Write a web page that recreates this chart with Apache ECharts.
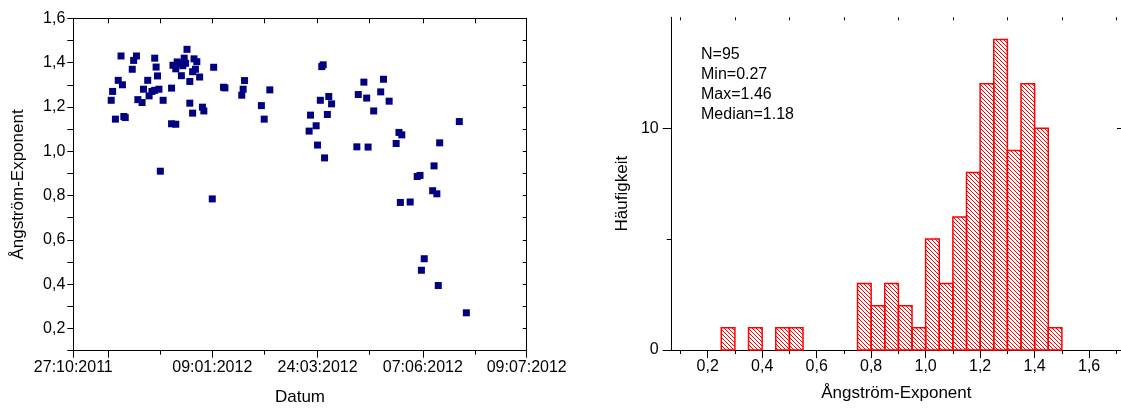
<!DOCTYPE html>
<html>
<head>
<meta charset="utf-8">
<script src="https://cdn.jsdelivr.net/npm/echarts@6/dist/echarts.min.js"></script>
<style>
  html, body { margin: 0; padding: 0; background: #fff; }
  #chart { width: 1121px; height: 412px; }
</style>
</head>
<body>
<div id="chart"></div>
<script>
// Messungen: Datum und Ångström-Exponent
var scatterDates = [
  '2011-11-05', '2011-11-16', '2011-11-14', '2011-11-29', '2011-11-30', '2011-12-01',
  '2011-11-13', '2011-11-03', '2011-11-06', '2011-10-30', '2011-10-29', '2011-11-01',
  '2011-11-07', '2011-11-08', '2011-11-24', '2011-11-21', '2011-11-17', '2011-11-20',
  '2011-11-25', '2011-11-27', '2011-11-29', '2011-12-02', '2011-12-05', '2011-12-03',
  '2011-12-11', '2011-12-11', '2011-12-14',
  '2011-12-22', '2011-12-12', '2011-12-15', '2011-12-14', '2011-12-17', '2011-12-20',
  '2011-12-21', '2011-12-19', '2011-12-27', '2011-12-29', '2011-12-26', '2011-12-28',
  '2011-12-18', '2011-12-24', '2011-12-31', '2011-12-24', '2011-12-26', '2012-01-02',
  '2012-01-03', '2012-01-10', '2012-01-09', '2012-01-17', '2012-01-18', '2012-02-01',
  '2012-01-31', '2012-01-30', '2012-02-19', '2012-02-13', '2012-02-15',
  '2012-03-19', '2012-03-23', '2012-03-18', '2012-03-24', '2012-03-27', '2012-03-28',
  '2012-03-26', '2012-04-01', '2012-04-03', '2012-03-31', '2012-03-29',
  '2012-04-26', '2012-04-22', '2012-04-28', '2012-05-10', '2012-05-08', '2012-05-14',
  '2012-05-03', '2012-04-21', '2012-04-29', '2012-05-21', '2012-05-23', '2012-05-19',
  '2012-06-19', '2012-07-03', '2012-06-15', '2012-06-03', '2012-06-05', '2012-06-14',
  '2012-06-17', '2012-05-22', '2012-05-29', '2012-06-08', '2012-06-06', '2012-06-18',
  '2012-07-08'
];
var scatterValues = [
  1.43, 1.43, 1.41, 1.42, 1.38, 1.34,
  1.37, 1.32, 1.30, 1.27, 1.23, 1.145,
  1.157, 1.152, 1.32, 1.28, 1.233, 1.22,
  1.25, 1.27, 1.275, 1.28, 1.23, 0.91,
  1.285, 1.124, 1.122,
  1.46, 1.388, 1.403, 1.372, 1.397, 1.42,
  1.397, 1.386, 1.417, 1.404, 1.359, 1.37,
  1.341, 1.315, 1.335, 1.217, 1.172, 1.199,
  1.182, 1.379, 0.785, 1.289, 1.286, 1.319,
  1.28, 1.253, 1.277, 1.206, 1.145,
  1.163, 1.115, 1.091, 1.028, 1.382, 1.39,
  1.23, 1.247, 1.214, 1.166, 0.97,
  1.312, 1.256, 1.24, 1.325, 1.268, 1.226,
  1.182, 1.02, 1.019, 1.085, 1.074, 1.035,
  1.038, 1.134, 0.934, 0.886, 0.891, 0.822,
  0.808, 0.769, 0.771, 0.515, 0.463, 0.394,
  0.271
];

// Datumsachse (Beschriftung wie im Original)
var axisStart = '2011-10-02';
var axisEnd = '2012-08-20';
var labelDates = ['2011-10-02', '2012-01-09', '2012-03-24', '2012-06-07', '2012-08-20'];
var labelTexts = ['27:10:2011', '09:01:2012', '24:03:2012', '07:06:2012', '09:07:2012'];
var majorTickDates = ['2011-10-02', '2011-10-27', '2012-01-09', '2012-03-24', '2012-06-07', '2012-08-20'];
var minorTickDates = ['2011-12-03', '2012-02-15', '2012-04-30', '2012-07-14'];

// Histogramm
var binStarts = [0.25, 0.35, 0.45, 0.50, 0.75, 0.80, 0.85, 0.90, 0.95, 1.00,
                 1.05, 1.10, 1.15, 1.20, 1.25, 1.30, 1.35, 1.40, 1.45];
var binCounts = [1, 1, 1, 1, 3, 2, 3, 2, 1, 5,
                 3, 6, 8, 12, 14, 9, 12, 10, 1];
var binWidth = 0.05;
var histMajorTicks = [0.2, 0.4, 0.6, 0.8, 1.0, 1.2, 1.4, 1.6];
var histMinorTicks = [0.1, 0.3, 0.5, 0.7, 0.9, 1.1, 1.3, 1.5, 1.7];
var statsLines = ['N=95', 'Min=0.27', 'Max=1.46', 'Median=1.18'];

var FONT = 'Liberation Sans, Arial, sans-serif';

function ts(d) { return Date.parse(d); }

var labelMap = {};
labelDates.forEach(function (d, i) { labelMap[ts(d)] = labelTexts[i]; });

var scatterData = scatterDates.map(function (d, i) { return [ts(d), scatterValues[i]]; });
var histData = binStarts.map(function (s, i) { return [s, s + binWidth, binCounts[i]]; });

// Schraffur
var hatch = document.createElement('canvas');
hatch.width = 4; hatch.height = 4;
var hc = hatch.getContext('2d');
hc.fillStyle = '#ff0000';
for (var i = 0; i < 4; i++) hc.fillRect(i, i, 1, 1);

var lineStyle = { color: '#000', width: 1 };
var tickLine = { color: '#000', width: 1 };

var chart = echarts.init(document.getElementById('chart'));

chart.setOption({
  animation: false,
  backgroundColor: '#fff',
  grid: [
    { left: 73.3, right: 594.3, top: 18.3, bottom: 61.3 },
    { left: 671.7, right: -1, top: 17.3, bottom: 62 }
  ],
  xAxis: [
    {
      type: 'value', gridIndex: 0, position: 'bottom',
      min: ts(axisStart), max: ts(axisEnd),
      splitLine: { show: false },
      axisLine: { lineStyle: lineStyle },
      axisTick: { customValues: majorTickDates.map(ts), length: 7, lineStyle: tickLine },
      axisLabel: {
        customValues: labelDates.map(ts), margin: 9, color: '#000', fontSize: 16, fontFamily: FONT,
        formatter: function (v) { return labelMap[v] || ''; }
      },
      name: 'Datum', nameLocation: 'middle', nameGap: 38,
      nameTextStyle: { color: '#000', fontSize: 17, fontFamily: FONT }
    },
    {
      type: 'value', gridIndex: 0, position: 'bottom',
      min: ts(axisStart), max: ts(axisEnd),
      splitLine: { show: false }, axisLine: { show: false },
      axisTick: { customValues: minorTickDates.map(ts), length: 4, lineStyle: tickLine },
      axisLabel: { show: false }
    },
    {
      type: 'value', gridIndex: 0, position: 'top',
      min: ts(axisStart), max: ts(axisEnd),
      splitLine: { show: false },
      axisLine: { lineStyle: lineStyle },
      axisTick: { inside: true, customValues: majorTickDates.concat(minorTickDates).map(ts), length: 5, lineStyle: tickLine },
      axisLabel: { show: false }
    },
    {
      type: 'value', gridIndex: 1, position: 'bottom',
      min: 0.068, max: 1.717,
      splitLine: { show: false },
      axisLine: { lineStyle: lineStyle },
      axisTick: { customValues: histMajorTicks, length: 8, lineStyle: tickLine },
      axisLabel: {
        customValues: histMajorTicks, margin: 9, color: '#000', fontSize: 16, fontFamily: FONT,
        formatter: function (v) { return v.toFixed(1).replace('.', ','); }
      },
      name: 'Ångström-Exponent', nameLocation: 'middle', nameGap: 35,
      nameTextStyle: { color: '#000', fontSize: 17, fontFamily: FONT }
    },
    {
      type: 'value', gridIndex: 1, position: 'bottom',
      min: 0.068, max: 1.717,
      splitLine: { show: false }, axisLine: { show: false },
      axisTick: { customValues: histMinorTicks, length: 4, lineStyle: tickLine },
      axisLabel: { show: false }
    },
    {
      type: 'value', gridIndex: 1, position: 'top',
      min: 0.068, max: 1.717,
      splitLine: { show: false },
      axisLine: { lineStyle: lineStyle },
      axisTick: { inside: true, customValues: histMajorTicks, length: 6, lineStyle: tickLine },
      axisLabel: { show: false }
    },
    {
      type: 'value', gridIndex: 1, position: 'top',
      min: 0.068, max: 1.717,
      splitLine: { show: false }, axisLine: { show: false },
      axisTick: { inside: true, customValues: histMinorTicks, length: 3, lineStyle: tickLine },
      axisLabel: { show: false }
    }
  ],
  yAxis: [
    {
      type: 'value', gridIndex: 0, position: 'left',
      min: 0.1, max: 1.6, interval: 0.1,
      splitLine: { show: false },
      axisLine: { lineStyle: lineStyle },
      axisTick: { length: 6, lineStyle: tickLine },
      axisLabel: {
        margin: 8, color: '#000', fontSize: 16, fontFamily: FONT,
        formatter: function (v) {
          var k = Math.round(v * 10);
          return k % 2 === 0 ? (k / 10).toFixed(1).replace('.', ',') : '';
        }
      },
      name: 'Ångström-Exponent', nameLocation: 'middle', nameGap: 46,
      nameTextStyle: { color: '#000', fontSize: 17, fontFamily: FONT }
    },
    {
      type: 'value', gridIndex: 0, position: 'right',
      min: 0.1, max: 1.6, interval: 0.1,
      splitLine: { show: false },
      axisLine: { lineStyle: lineStyle },
      axisTick: { inside: true, length: 4, lineStyle: tickLine },
      axisLabel: { show: false }
    },
    {
      type: 'value', gridIndex: 1, position: 'left',
      min: 0, max: 15,
      splitLine: { show: false },
      axisLine: { lineStyle: lineStyle },
      axisTick: { customValues: [0, 10], length: 9, lineStyle: tickLine },
      axisLabel: { customValues: [0, 10], margin: 13, color: '#000', fontSize: 16, fontFamily: FONT },
      name: 'Häufigkeit', nameLocation: 'middle', nameGap: 41,
      nameTextStyle: { color: '#000', fontSize: 17, fontFamily: FONT, padding: [0, 20, 0, 0] }
    },
    {
      type: 'value', gridIndex: 1, position: 'left',
      min: 0, max: 15,
      splitLine: { show: false }, axisLine: { show: false },
      axisTick: { customValues: [5], length: 5, lineStyle: tickLine },
      axisLabel: { show: false }
    },
    {
      type: 'value', gridIndex: 1, position: 'right',
      min: 0, max: 15,
      splitLine: { show: false }, axisLine: { show: false },
      axisTick: { inside: true, customValues: [10], length: 4, lineStyle: tickLine },
      axisLabel: { show: false }
    }
  ],
  graphic: [{
    type: 'text', left: 701, top: 44, silent: true,
    style: {
      text: statsLines.join('\n'), fill: '#000',
      font: '16px ' + FONT, lineHeight: 20.3
    }
  }],
  series: [
    {
      type: 'scatter', xAxisIndex: 0, yAxisIndex: 0,
      symbol: 'rect', symbolSize: 7,
      itemStyle: { color: '#000080', opacity: 1 },
      data: scatterData
    },
    {
      type: 'custom', xAxisIndex: 3, yAxisIndex: 2,
      encode: { x: [0, 1], y: 2 },
      renderItem: function (params, api) {
        var p0 = api.coord([api.value(0), api.value(2)]);
        var p1 = api.coord([api.value(1), 0]);
        return {
          type: 'rect',
          shape: { x: p0[0], y: p0[1], width: p1[0] - p0[0], height: p1[1] - p0[1] },
          style: { fill: { image: hatch, repeat: 'repeat' }, stroke: '#ff0000', lineWidth: 1.5 }
        };
      },
      data: histData
    }
  ]
});
</script>
</body>
</html>
